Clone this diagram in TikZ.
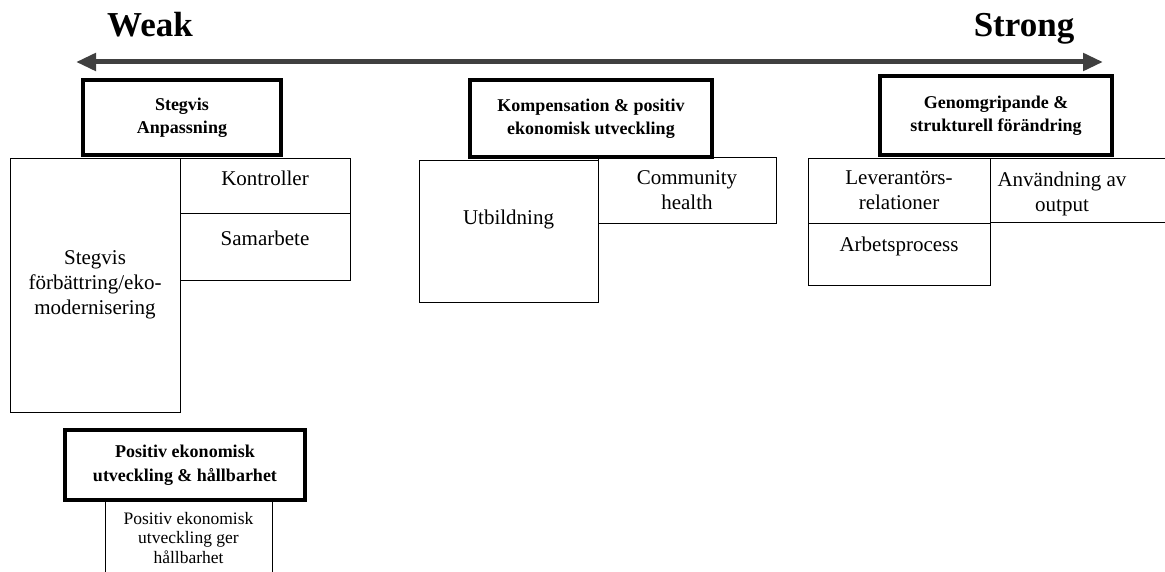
\documentclass[tikz,border=0pt]{standalone}
\usepackage{fontspec}
\setmainfont{Liberation Serif}
\usetikzlibrary{arrows.meta,positioning}
\tikzstyle{every item} = []
\tikzstyle{header} = [rectangle, draw, black, line width=4.5pt, fill=white,
inner sep=0pt, outer sep=0pt, anchor=north west, align=center,
font=\bfseries\fontsize{18}{23.5}\selectfont]
\tikzstyle{item} = [rectangle, draw, black, line width=0.9pt,
inner sep=0pt, outer sep=0pt, anchor=north west, align=center,
font=\fontsize{21}{25}\selectfont, every item]
\tikzstyle{small item} = [item, font=\fontsize{17.5}{19.5}\selectfont]
\tikzstyle{item text} = [align=center, font=\fontsize{21}{25}\selectfont]
\tikzstyle{pole} = [font=\bfseries\fontsize{35}{38}\selectfont, anchor=base]
\tikzstyle{axis} = [draw, line width=5pt, black!75,
{Triangle[length=20pt,width=17pt]}-{Triangle[length=20pt,width=17pt]}]

\begin{document}
\begin{tikzpicture}[x=1pt, y=-1pt]
	\useasboundingbox (0,0) rectangle (1165,572);

	% scale from weak to strong
	\node[pole] (weak) at (150,37) {Weak};
	\node[pole] (strong) at (1024,37) {Strong};
	\coordinate (weakend) at (76,62);
	\coordinate (strongend) at (1103,62);
	\draw[axis] (weakend) -- (strongend);

	% stegvis anpassning
	\node[item, minimum width=170, minimum height=254] (gradual) at (10,158) {Stegvis\\förbättring/eko-\\modernisering};
	\node[item, minimum width=170, minimum height=55, text depth=14pt] (control) at (180,158) {Kontroller};
	\node[item, minimum width=170, minimum height=67, text depth=16pt] (cooperation) [below=0pt of control] {Samarbete};
	\node[header, minimum width=198, minimum height=75] (adapt) at (83,80) {Stegvis\\Anpassning};

	% kompensation
	\node[item, minimum width=179, minimum height=142, text depth=27pt] (education) at (419,160) {Utbildning};
	\node[item, minimum width=178, minimum height=66] (health) at (598,157) {Community\\health};
	\node[header, minimum width=242, minimum height=77] (compensation) at (470,80) {Kompensation \& positiv\\ekonomisk utveckling};

	% genomgripande
	\node[item, minimum width=182, minimum height=65] (supplier) at (808,158) {Leverantörs-\\relationer};
	\node[item, minimum width=182, minimum height=62, text depth=20pt] (workprocess) [below=0pt of supplier] {Arbetsprocess};
	\node[item, minimum width=185, minimum height=64] (output) at (990,158) {};
	\node[item text] (outputtext) at (1062,194) {Användning av\\output};
	\node[header, minimum width=232, minimum height=79] (structural) at (880,76) {Genomgripande \&\\strukturell förändring};

	% hållbarhet
	\node[small item, minimum width=167, minimum height=76] (growth) at (105,500) {Positiv ekonomisk\\utveckling ger\\hållbarhet};
	\node[header, minimum width=240, minimum height=70] (sustain) at (65,430) {Positiv ekonomisk\\utveckling \& hållbarhet};
\end{tikzpicture}
\end{document}
